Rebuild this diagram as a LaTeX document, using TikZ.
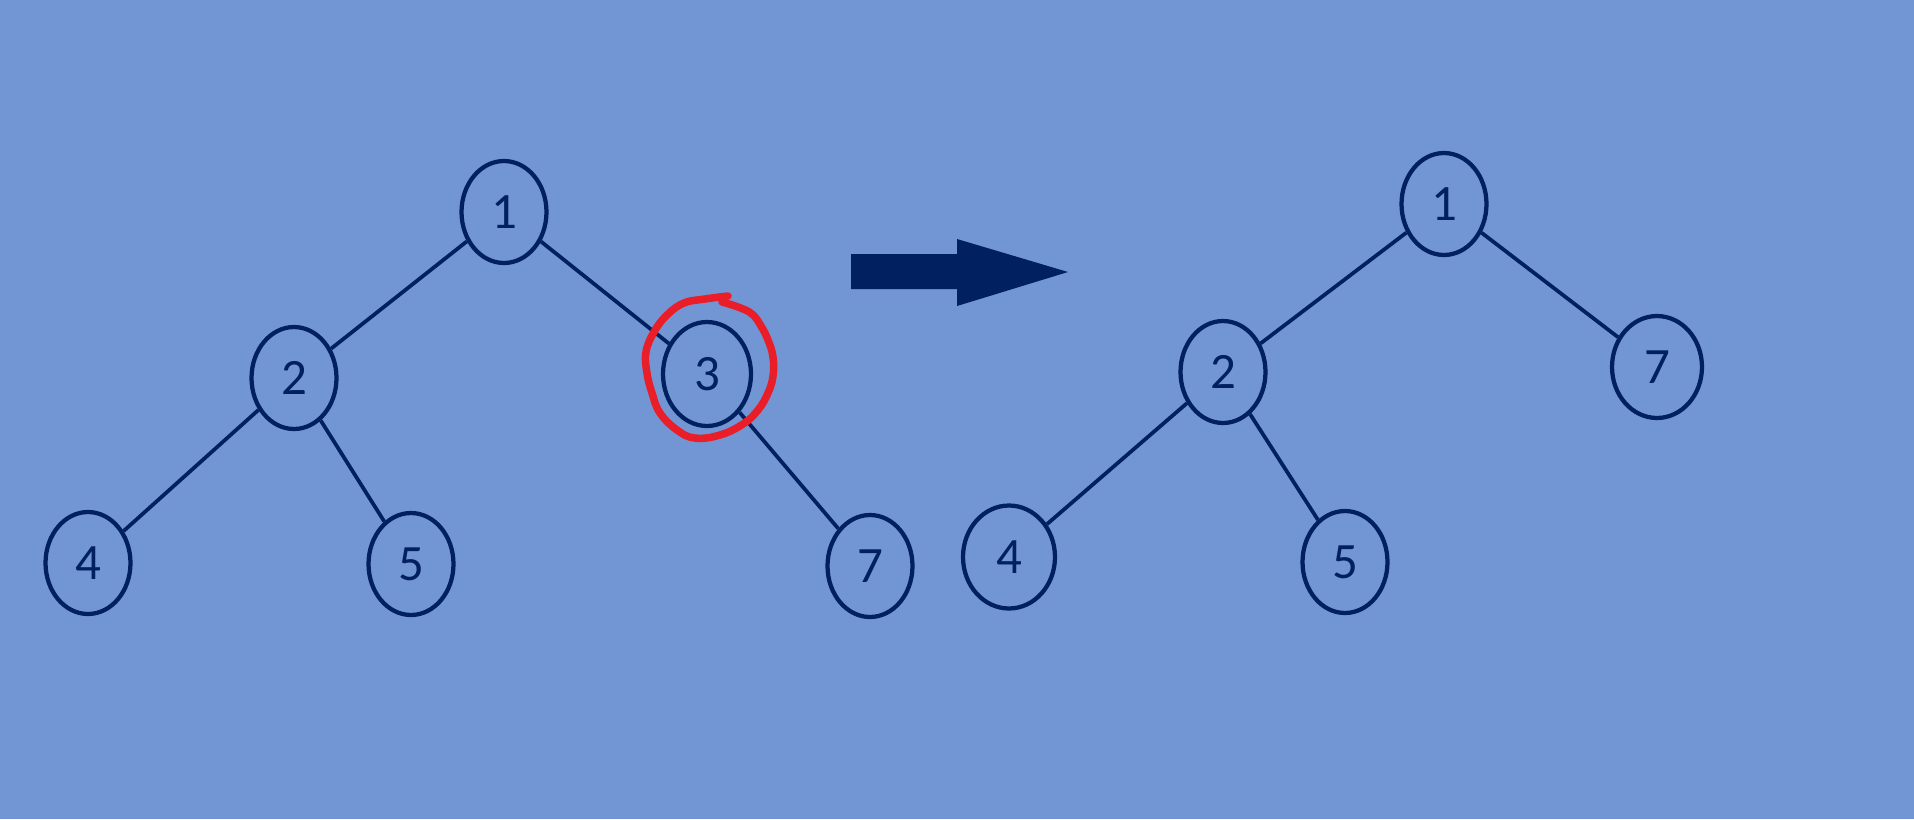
\documentclass[tikz,border=0pt]{standalone}
\usepackage{fontspec}
\setmainfont{Carlito}
\usetikzlibrary{shapes.geometric}
\definecolor{bg}{RGB}{114,150,212}
\definecolor{navy}{RGB}{0,32,96}
\definecolor{ringred}{RGB}{234,30,40}
\begin{document}
\begin{tikzpicture}[x=0.02cm,y=-0.02cm,
  vert/.style={ellipse,draw=navy,line width=0.085cm,minimum width=1.7cm,minimum height=2.04cm,inner sep=0pt,text=navy,font=\fontsize{29}{30}\selectfont},
  edge/.style={draw=navy,line width=0.075cm}]
\fill[bg] (0,0) rectangle (1914,819);
\useasboundingbox (0,0) rectangle (1914,819);
% tree before removal
\node[vert] (a1) at (504,212) {1};
\node[vert] (a2) at (294,378) {2};
\node[vert,minimum width=1.76cm,minimum height=2.08cm] (a3) at (707,374) {3};
\node[vert] (a4) at (88,563) {4};
\node[vert] (a5) at (411,564) {5};
\node[vert] (a7) at (870,566) {7};
\draw[edge] (a1) -- (a2);
\draw[edge] (a1) -- (a3);
\draw[edge] (a2) -- (a4);
\draw[edge] (a2) -- (a5);
\draw[edge] (a3) -- (a7);
% hand-drawn ring around the removed node
\draw[ringred,line width=0.15cm,line cap=round,line join=round] plot[smooth,tension=0.7] coordinates {
 (728,296) (705,299) (684,303) (667,315) (654,332) (646,352) (647,373) (652,393)
 (660,413) (677,430) (695,438) (720,435) (743,424) (758,410) (768,393) (773,376)
 (773,357) (768,340) (761,326) (752,314) (738,307) (722,302)};
% block arrow
\fill[navy] (851,254) -- (957,254) -- (957,239) -- (1068,272) -- (957,306) -- (957,289) -- (851,289) -- cycle;
% tree after removal
\node[vert] (b1) at (1444,204) {1};
\node[vert] (b2) at (1223,372) {2};
\node[vert,minimum width=1.8cm] (b7) at (1657,367) {7};
\node[vert,minimum width=1.84cm,minimum height=2.06cm] (b4) at (1009,557) {4};
\node[vert] (b5) at (1345,562) {5};
\draw[edge] (b1) -- (b2);
\draw[edge] (b1) -- (b7);
\draw[edge] (b2) -- (b4);
\draw[edge] (b2) -- (b5);
\end{tikzpicture}
\end{document}
